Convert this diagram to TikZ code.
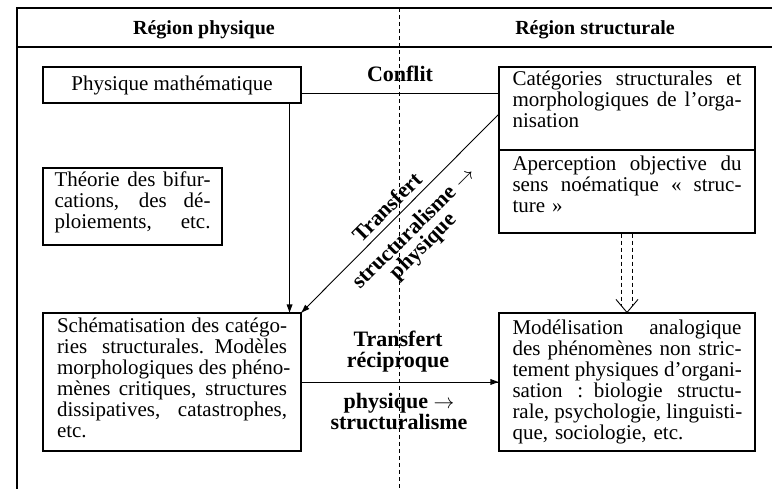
\documentclass[tikz,border=0pt]{standalone}
\usepackage{fontspec}
\setmainfont{Liberation Serif}
\usepackage{tikz}
\tikzset{
  font={\fontsize{21pt}{21pt}\selectfont}}
\newlength{\jw}
\tikzset{jbox/.style={text width=#1, execute at begin node={\setlength{\jw}{#1}}}}
\newcommand{\justline}[1]{\noindent\hbox to\jw{\spaceskip=\fontdimen2\font plus 1fil\relax #1}\par}
\newcommand{\tailline}[1]{\noindent\hbox{#1}\par}

\begin{document}
\begin{tikzpicture}[x=1pt,y=1pt]
\tikzstyle{every node}+=[inner sep=0pt]
\tikzstyle{box}=[draw, black, line width=1.1pt, rectangle]
\tikzstyle{hd}=[font={\fontsize{20pt}{21pt}\selectfont\bfseries}]
\tikzstyle{lab}=[font={\fontsize{22pt}{21pt}\selectfont\bfseries}, align=center]
\useasboundingbox (0,0) rectangle (772,-489);
\draw [black, line width=1.1pt] (772,-8) -- (17,-8) -- (17,-489);
\draw [black, line width=1.1pt] (17,-47) -- (772,-47);
\draw [black, line width=0.9pt, dash pattern=on 4pt off 3pt] (399,-8) -- (399,-489);
\draw (204,-35) node [hd, anchor=base] (hdL) {Région physique};
\draw (595,-35) node [hd, anchor=base] (hdR) {Région structurale};
\node [box, minimum width=258pt, minimum height=36pt] (phys) at (172,-85) {Physique mathématique};
\node [box, jbox=156pt, inner xsep=11.5pt, minimum height=77pt] (theo) at (132.5,-206.5)
  {\justline{Théorie des bifur-}\justline{cations, des dé-}\justline{ploiements, etc.\rule[-12pt]{0pt}{1pt}}};
\node [box, jbox=230pt, inner xsep=14pt, minimum height=138pt] (schem) at (172,-382)
  {\justline{Schématisation des catégo-}\justline{ries structurales. Modèles}\justline{morphologiques des phéno-}%
   \justline{mènes critiques, structures}\justline{dissipatives, catastrophes,}\tailline{etc.\rule[-8pt]{0pt}{1pt}}};
\node [box, jbox=229pt, inner xsep=13.5pt, minimum height=83pt] (cat) at (627,-108.5)
  {\justline{Catégories structurales et}\justline{morphologiques de l'orga-}\tailline{nisation\rule[-18pt]{0pt}{1pt}}};
\node [box, jbox=229pt, inner xsep=13.5pt, minimum height=83pt] (aper) at (627,-191.5)
  {\justline{Aperception objective du}\justline{sens noématique « struc-}\tailline{ture »\rule[-14pt]{0pt}{1pt}}};
\node [box, jbox=229pt, inner xsep=13.5pt, minimum height=138pt] (model) at (627,-382)
  {\justline{Modélisation analogique}\justline{des phénomènes non stric-}\justline{tement physiques d'organi-}%
   \justline{sation : biologie structu-}\justline{rale, psychologie, linguisti-}\tailline{que, sociologie, etc.}};
\draw (400,-82) node [lab, anchor=base] (conf) {Conflit};
\coordinate (cfl) at ([yshift=-8.5pt]phys.east);
\draw [black, line width=0.9pt] (cfl) -- (cfl -| cat.west);
\draw [black, line width=0.9pt] ([xshift=-12pt]phys.south east) -- ([xshift=-12pt]schem.north east);
\fill [black] ([xshift=-12pt]schem.north east) -- ++(-3,8) -- ++(6,0) -- cycle;
\draw [black, line width=0.9pt] ([yshift=-48pt]cat.north west) -- (schem.north east);
\fill [black] (schem.north east) -- ++(7.8,3.5) -- ++(-4.2,4.2) -- cycle;
\draw (387,-207) node [lab, rotate=45] (trA) {Transfert};
\draw (413,-227) node [lab, rotate=45] (trB) {structuralisme $\rightarrow$};
\draw (424,-247) node [lab, rotate=45] (trC) {physique};
\draw [black, line width=0.9pt] (schem.east) -- (model.west);
\fill [black] (model.west) -- ++(-8,3) -- ++(0,-6) -- cycle;
\draw (398,-352) node [lab] (recA) {Transfert\\réciproque};
\draw (399,-412) node [lab] (recB) {physique $\rightarrow$\\structuralisme};
\draw [black, line width=0.9pt, dash pattern=on 4pt off 3pt] ([xshift=-5.5pt]aper.south) -- ([xshift=-5.5pt,yshift=6pt]model.north);
\draw [black, line width=0.9pt, dash pattern=on 4pt off 3pt] ([xshift=5.5pt]aper.south) -- ([xshift=5.5pt,yshift=6pt]model.north);
\draw [black, line width=0.9pt] ([shift={(-11,13)}]model.north) -- (model.north) -- ([shift={(11,13)}]model.north);
\end{tikzpicture}
\end{document}
